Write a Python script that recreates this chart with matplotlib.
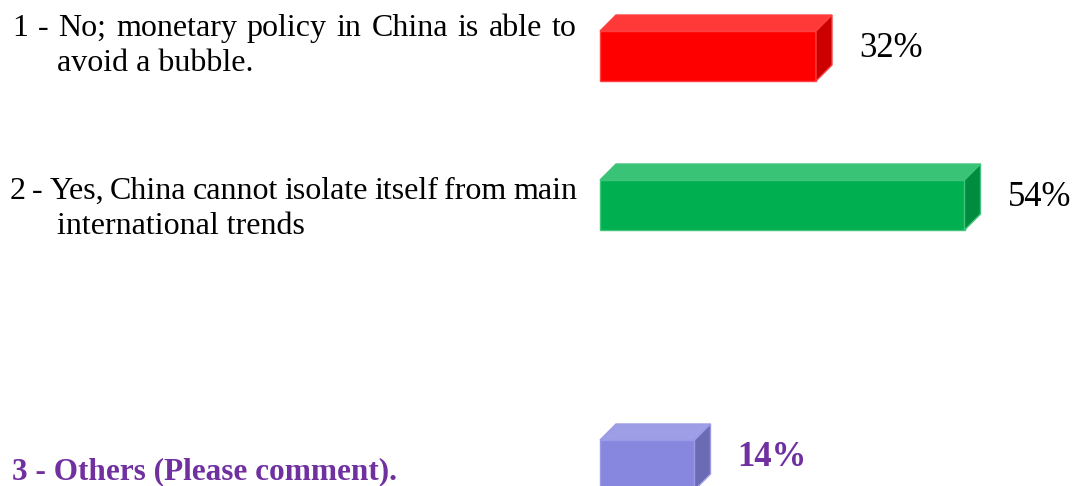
import matplotlib
matplotlib.use("Agg")
import matplotlib.pyplot as plt
from matplotlib.patches import Polygon

# ----------------------------
# Data
# ----------------------------
answers = [
    ["1 - No; monetary policy in China is able to", "avoid a bubble."],
    ["2 - Yes, China cannot isolate itself from main", "international trends"],
    ["3 - Others (Please comment)."],
]
shares = [32, 54, 14]
share_labels = ["32%", "54%", "14%"]

# ----------------------------
# Style / layout
# ----------------------------
front_cols = ["#FF0000", "#00B050", "#8787DF"]
top_cols = ["#FF3838", "#38C376", "#9E9EE7"]
side_cols = ["#CC0000", "#008C3F", "#6B6BB3"]
edge_cols = ["#FF4040", "#40C47A", "#9A9AE6"]
bar_y = [56, 205, 465]          # pixel centre of the front face
bar_h = 50
px_per_pct = 6.75
depth_px = 16
W, H = 1075, 486
FONT = ["Liberation Serif", "DejaVu Serif"]
PURPLE = "#7030A0"

fig = plt.figure(figsize=(W / 100, H / 100), dpi=100)
ax = fig.add_axes([0, 0, 1, 1])
ax.set_xlim(-600 / px_per_pct, (W - 600) / px_per_pct)
ax.set_ylim(H, 0)
ax.axis("off")

dx = depth_px / px_per_pct
for i, v in enumerate(shares):
    y0 = bar_y[i] - bar_h / 2
    y1 = bar_y[i] + bar_h / 2
    ax.barh(bar_y[i], v, height=bar_h, left=0, color=front_cols[i],
            edgecolor=edge_cols[i], linewidth=1.0, zorder=2)
    top = Polygon([(0, y0), (v, y0), (v + dx, y0 - depth_px), (dx, y0 - depth_px)],
                  closed=True, facecolor=top_cols[i], edgecolor=edge_cols[i],
                  linewidth=1.0, zorder=2)
    side = Polygon([(v, y0), (v + dx, y0 - depth_px), (v + dx, y1 - depth_px), (v, y1)],
                   closed=True, facecolor=side_cols[i], edgecolor=edge_cols[i],
                   linewidth=1.0, zorder=2)
    ax.add_patch(top)
    ax.add_patch(side)

    bold = i == 2
    ax.text(v + dx + 27 / px_per_pct, bar_y[i] + 1,
            share_labels[i], fontsize=25, family=FONT, va="baseline", ha="left",
            color=PURPLE if bold else "black",
            fontweight="bold" if bold else "normal")

renderer = fig.canvas.get_renderer()


def ptext(x, y, s, size=23, **kw):
    return fig.text(x / W, 1 - y / H, s, family=FONT, fontsize=size, va="baseline", **kw)


def justified(x0, x1, y, s, size=23):
    # spread the words so the line runs from x0 to x1 (pixels)
    words = s.split(" ")
    items = [ptext(x0, y, w, size) for w in words]
    widths = [t.get_window_extent(renderer).width for t in items]
    gap = (x1 - x0 - sum(widths)) / (len(words) - 1)
    x = x0
    for t, w in zip(items, widths):
        t.set_x(x / W)
        x += w + gap


justified(12, 577, 36, answers[0][0])
ptext(57, 71, answers[0][1])
justified(10, 577, 199, answers[1][0])
ptext(57, 234, answers[1][1])
ptext(12, 479, answers[2][0], size=22.5, color=PURPLE, fontweight="bold")

fig.savefig("out.png", dpi=100)
